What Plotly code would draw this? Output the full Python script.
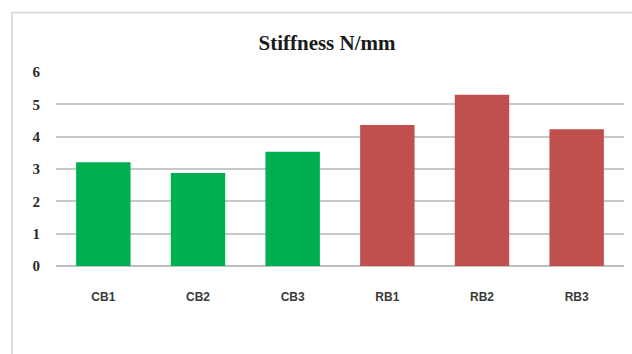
import plotly.graph_objects as go

categories = ["CB1", "CB2", "CB3", "RB1", "RB2", "RB3"]
stiffness = [3.21, 2.88, 3.53, 4.36, 5.30, 4.23]
bar_colors = ["#00B050", "#00B050", "#00B050", "#C0504D", "#C0504D", "#C0504D"]
y_ticks = [0, 1, 2, 3, 4, 5, 6]
title_text = "Stiffness N/mm"

W, H = 632, 354
L, R, T, B = 56, 8, 72, 88
pw, ph = W - L - R, H - T - B

fig = go.Figure()
fig.add_trace(go.Bar(
    x=categories, y=stiffness,
    marker=dict(color=bar_colors, line=dict(width=0)),
    width=0.575,
    hoverinfo="x+y",
))

def px_x(x):
    return (x - L) / pw

def px_y(y):
    return (H - B - y) / ph

fig.add_shape(type="rect", xref="paper", yref="paper",
              x0=px_x(12), x1=px_x(645), y0=px_y(365), y1=px_y(12.5),
              line=dict(color="#d4d4d4", width=1.5), fillcolor="rgba(0,0,0,0)", layer="below")

fig.update_layout(
    width=W, height=H,
    margin=dict(l=L, r=R, t=T, b=B, autoexpand=False),
    paper_bgcolor="white", plot_bgcolor="white",
    showlegend=False,
    title=dict(text=title_text, x=(327 / W), xanchor="center",
               y=1 - 43 / H, yanchor="middle",
               font=dict(family="Liberation Serif, Times New Roman, serif", size=21,
                         color="#1a1a1a", weight="bold")),
    xaxis=dict(showgrid=False, showline=False, zeroline=False, ticks="", automargin=False,
               tickfont=dict(family="Liberation Sans, Arial", size=12, color="#3a3a3a", weight="bold"),
               ticklabelstandoff=22, range=[-0.5, 5.5]),
    yaxis=dict(range=[0, 6], tickvals=y_ticks, showgrid=True, gridcolor="#c8c8c8", gridwidth=1.5,
               zeroline=True, zerolinecolor="#c0c0c0", zerolinewidth=1.5, showline=False, ticks="",
               automargin=False,
               tickfont=dict(family="Liberation Serif, Times New Roman, serif", size=15,
                             color="#2a2a2a", weight="bold"),
               ticklabelstandoff=15),
    font=dict(family="Liberation Sans, Arial"),
)
fig.write_html("out.html", config={"displayModeBar": False},
               post_script="document.body.style.margin='0';document.body.style.overflow='hidden';")
